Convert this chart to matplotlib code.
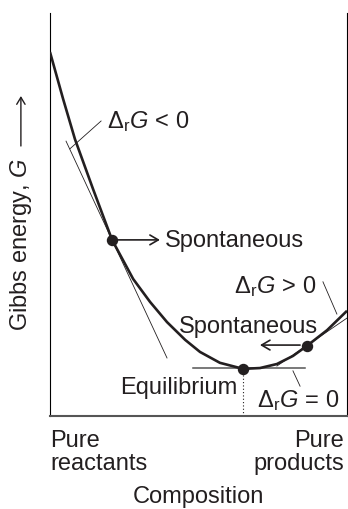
import matplotlib
matplotlib.use("Agg")
import matplotlib.pyplot as plt

plt.rcParams["font.family"] = ["Liberation Sans", "DejaVu Sans"]
plt.rcParams["mathtext.fontset"] = "custom"
plt.rcParams["mathtext.rm"] = "Liberation Sans"
plt.rcParams["mathtext.it"] = "Liberation Sans:italic"

# === data (composition 0..1, G arbitrary 0..100) ===
comp = [0, .044, .084, .145, .209, .28, .337, .394, .455, .505, .572,
        .65, .707, .764, .818, .865, .933, 1.0]
gibbs = [90.3, 78.7, 68.7, 56.3, 43.7, 34.0, 28.3, 23.3, 18.9, 15.9, 13.2,
         11.7, 11.9, 12.9, 14.9, 17.4, 21.3, 26.1]
marked = [4, 11, 15]   # spontaneous-forward, equilibrium, spontaneous-back

tangent_lt = ([.054, .394], [68.2, 14.4])
tangent_rt = ([.764, 1.0], [12.4, 24.3])
tangent_eq = ([.481, .859], [11.9, 11.9])

leader_lt = ([.172, .067], [73.2, 66.3])
leader_rt = ([.919, .966], [33.3, 25.3])
leader_eq = ([.818, .842], [11.2, 7.4])

arrow_fwd_end = .370
arrow_back = (.842, .707, 17.6)

FS = 17
ink = "#231f20"

fig = plt.figure(figsize=(3.48, 5.10), dpi=100)
ax = fig.add_axes([50/348, 1 - 417/510, 297/348, 403/510])

ax.plot(comp, gibbs, color=ink, lw=1.9, solid_capstyle="butt", zorder=3)
ax.plot([comp[i] for i in marked], [gibbs[i] for i in marked], "o",
        color=ink, ms=7.2, zorder=4)

for xs, ys in (tangent_lt, tangent_rt):
    ax.plot(xs, ys, color=ink, lw=0.6, zorder=2)
ax.plot(*tangent_eq, color="#555555", lw=1.1, zorder=2)
for xs, ys in (leader_lt, leader_rt, leader_eq):
    ax.plot(xs, ys, color=ink, lw=0.6)

# equilibrium dotted drop line
ieq = marked[1]
ax.plot([comp[ieq], comp[ieq]], [0, gibbs[ieq]], color=ink, lw=0.8,
        ls=(0, (1, 2)), zorder=1)

# arrows
i1 = marked[0]
ax.annotate("", xy=(arrow_fwd_end, gibbs[i1]), xytext=(comp[i1], gibbs[i1]),
            arrowprops=dict(arrowstyle="->,head_length=0.6,head_width=0.35",
                            color=ink, lw=1.2, shrinkA=0, shrinkB=0))
ax.annotate("", xy=(arrow_back[1], arrow_back[2]),
            xytext=(arrow_back[0], arrow_back[2]),
            arrowprops=dict(arrowstyle="->,head_length=0.6,head_width=0.35",
                            color=ink, lw=1.2, shrinkA=0, shrinkB=0))

# texts
ax.text(.192, 73.4, r"$\Delta_{\mathrm{r}}G\,<\,0$", fontsize=FS, color=ink,
        ha="left", va="center")
ax.text(.387, gibbs[i1], "Spontaneous", fontsize=FS, color=ink,
        ha="left", va="center")
ax.text(.899, 32.3, r"$\Delta_{\mathrm{r}}G\,>\,0$", fontsize=FS, color=ink,
        ha="right", va="center")
ax.text(.667, 22.3, "Spontaneous", fontsize=FS, color=ink,
        ha="center", va="center")
ax.text(.630, 7.2, "Equilibrium", fontsize=FS, color=ink,
        ha="right", va="center")
ax.text(.976, 4.2, r"$\Delta_{\mathrm{r}}G\,=\,0$", fontsize=FS, color=ink,
        ha="right", va="center")

ax.text(0, -0.032, "Pure\nreactants", transform=ax.transAxes, fontsize=FS,
        color=ink, ha="left", va="top", linespacing=1.05)
ax.text(0.99, -0.032, "Pure\nproducts", transform=ax.transAxes, fontsize=FS,
        color=ink, ha="right", va="top", linespacing=1.05, multialignment="right")
ax.text(0.5, -0.199, "Composition", transform=ax.transAxes, fontsize=FS,
        color=ink, ha="center", va="center")

ax.text(-0.098, 0.427, "Gibbs energy, $G$", transform=ax.transAxes,
        fontsize=FS, color=ink, ha="center", va="center", rotation=90)
ax.annotate("", xy=(-0.098, 0.794), xytext=(-0.098, 0.67),
            xycoords="axes fraction", textcoords="axes fraction",
            annotation_clip=False,
            arrowprops=dict(arrowstyle="->,head_length=0.5,head_width=0.3",
                            color=ink, lw=1.0, shrinkA=0, shrinkB=0))

ax.set_xlim(0, 1)
ax.set_ylim(0, 100)
ax.set_xticks([])
ax.set_yticks([])
ax.spines["top"].set_visible(False)
ax.spines["left"].set_linewidth(0.8)
ax.spines["right"].set_linewidth(0.8)
ax.spines["bottom"].set_linewidth(1.5)
ax.spines["bottom"].set_color("#555555")

fig.savefig("out.png", dpi=100)
